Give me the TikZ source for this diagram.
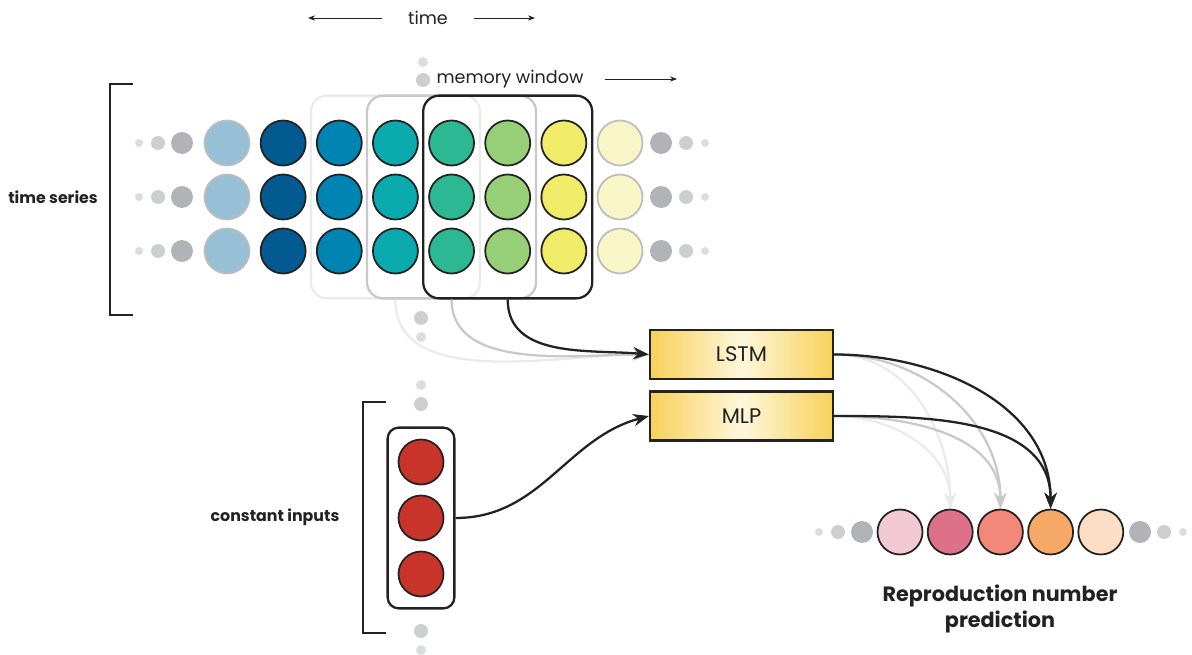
\documentclass[tikz,border=0pt]{standalone}
\usepackage{fontspec}
\setmainfont{Poppins}
\usetikzlibrary{arrows.meta, positioning, calc, fit}
\definecolor{inkLine}{HTML}{222222}
\definecolor{fadeLine}{HTML}{BDBDBD}
\definecolor{winFaint}{HTML}{EBEBEB}
\definecolor{winMid}{HTML}{C9C9C9}
\definecolor{dotDark}{HTML}{B2B3B6}
\definecolor{dotMid}{HTML}{CDCED1}
\definecolor{dotLight}{HTML}{DCDDDF}
\definecolor{tsA}{HTML}{97BFD6}
\definecolor{tsB}{HTML}{035A91}
\definecolor{tsC}{HTML}{0084B1}
\definecolor{tsD}{HTML}{0AAAAE}
\definecolor{tsE}{HTML}{2DB894}
\definecolor{tsF}{HTML}{97CE78}
\definecolor{tsG}{HTML}{F0EC6A}
\definecolor{tsH}{HTML}{F8F6C6}
\definecolor{boxEdge}{HTML}{F7D159}
\definecolor{boxMid}{HTML}{FEF7DC}
\definecolor{constFill}{HTML}{C9342A}
\definecolor{outA}{HTML}{F2C8D3}
\definecolor{outB}{HTML}{DD7189}
\definecolor{outC}{HTML}{F3877A}
\definecolor{outD}{HTML}{F6A866}
\definecolor{outE}{HTML}{FCDDC5}

\begin{document}
\begin{tikzpicture}[
  x=0.02cm, y=-0.02cm,
  cell/.style   ={circle, draw=inkLine, line width=1pt, minimum size=0.9cm, inner sep=0pt},
  faded/.style  ={cell, draw=fadeLine},
  window/.style ={draw, rounded corners=0.32cm, line width=1.3pt, inner xsep=0.1cm, inner ysep=0.48cm},
  holder/.style ={draw=inkLine, rounded corners=0.22cm, line width=1.3pt, inner xsep=0.2cm, inner ysep=0.22cm},
  netbox/.style ={draw=inkLine, line width=1.3pt, left color=boxEdge, right color=boxEdge, middle color=boxMid,
                  minimum width=3.66cm, minimum height=0.98cm, text=inkLine, font=\fontsize{12}{14}\selectfont},
  caption/.style={text=inkLine, font=\fontsize{10}{12}\selectfont},
  heading/.style={text=inkLine, font=\bfseries\fontsize{9}{11}\selectfont},
  flow/.style   ={-{Stealth[length=9pt,width=7pt]}, line width=1.3pt, draw=inkLine},
  tick/.style   ={-{Stealth[length=4pt,width=3pt]}, line width=0.5pt, draw=inkLine},
  bracket/.style={draw=inkLine, line width=0.6pt},
]
\useasboundingbox (0,0) rectangle (1192,655);
% ----- Time series grid -----
\foreach \col/\edge [count=\i] in {tsA/faded,tsB/cell,tsC/cell,tsD/cell,tsE/cell,tsF/cell,tsG/cell,tsH/faded}
  \foreach \j in {1,2,3}
    \node[\edge, fill=\col] (c-\i-\j) at ({227+56.14*(\i-1)},{143+54*(\j-1)}) {};
\foreach \y in {143,197,251} {
  \fill[dotLight] (139,\y) circle (0.08cm);
  \fill[dotMid]   (158,\y) circle (0.14cm);
  \fill[dotDark]  (182,\y) circle (0.22cm);
  \fill[dotDark]  (661,\y) circle (0.22cm);
  \fill[dotMid]   (686,\y) circle (0.14cm);
  \fill[dotLight] (705,\y) circle (0.08cm);
}
% sliding memory windows
\node[window, draw=winFaint, fit=(c-3-1)(c-5-3)] (win1) {};
\node[window, draw=winMid,   fit=(c-4-1)(c-6-3)] (win2) {};
\node[window, draw=inkLine,  fit=(c-5-1)(c-7-3)] (win3) {};
\fill[dotLight] (423,62) circle (0.1cm);
\fill[dotMid]   (423,80) circle (0.14cm);
% labels on top
\node[caption] (time) at (428,18) {time};
\coordinate (timeL) at (308,18);
\coordinate (timeR) at (535,18);
\draw[tick] ([xshift=-0.4cm]time.west) -- (timeL);
\draw[tick] ([xshift=0.4cm]time.east) -- (timeR);
\node[caption] (mem) at (510,79) {memory window};
\coordinate (memR) at (677,79);
\draw[tick] ([xshift=0.3cm]mem.east) -- (memR);
\draw[bracket] (133,84) -- (110,84) -- (110,315) -- (133,315);
\node[heading] (tslabel) at (53,197) {time series};
% ----- Networks -----
\node[netbox] (lstm) at (741.5,354.5) {LSTM};
\node[netbox] (mlp)  at (741.5,416)   {MLP};
\draw[flow, draw=winFaint] (win1.south) to[out=-90,in=180,looseness=0.9] (lstm.west);
\draw[flow, draw=winMid]   (win2.south) to[out=-90,in=180,looseness=0.9] (lstm.west);
\fill[dotMid]   (421,318) circle (0.14cm);
\fill[dotLight] (421,337) circle (0.1cm);
\draw[flow]                (win3.south) to[out=-90,in=175] (lstm.west);
% ----- Constant inputs -----
\foreach \j in {1,2,3}
  \node[cell, fill=constFill] (k-\j) at (421,{462+56*(\j-1)}) {};
\node[holder, fit=(k-1)(k-3)] (const) {};
\fill[dotLight] (421,385) circle (0.1cm);
\fill[dotMid]   (421,404) circle (0.14cm);
\fill[dotMid]   (421,631) circle (0.14cm);
\fill[dotLight] (421,650) circle (0.1cm);
\draw[bracket] (386,402) -- (363,402) -- (363,633) -- (386,633);
\node[heading] (klabel) at (275,517) {constant inputs};
\draw[flow] (const.east) to[out=0,in=195] (mlp.west);
% ----- Prediction -----
\foreach \col [count=\i] in {outA,outB,outC,outD,outE}
  \node[cell, fill=\col] (o-\i) at ({900+50.2*(\i-1)},532) {};
\fill[dotLight] (819,532) circle (0.08cm);
\fill[dotMid]   (838,532) circle (0.14cm);
\fill[dotDark]  (862,532) circle (0.22cm);
\fill[dotDark]  (1140,532) circle (0.22cm);
\fill[dotMid]   (1164,532) circle (0.14cm);
\fill[dotLight] (1183,532) circle (0.08cm);
\foreach \src in {lstm,mlp} {
  \draw[flow, draw=winFaint] (\src.east) to[out=0,in=90] (o-2.north);
  \draw[flow, draw=winMid]   (\src.east) to[out=0,in=90] (o-3.north);
}
\draw[flow] (lstm.east) to[out=0,in=90] (o-4.north);
\draw[flow] (mlp.east)  to[out=0,in=90] (o-4.north);
\node[heading, font=\bfseries\fontsize{11.8}{14.5}\selectfont, align=center] (pred) at (1000,609)
  {Reproduction number\\prediction};
\end{tikzpicture}
\end{document}
